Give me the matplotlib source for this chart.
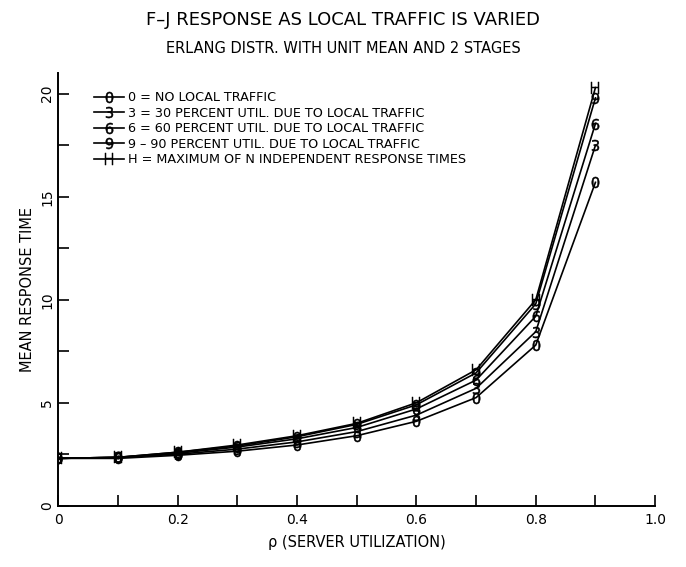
import matplotlib
matplotlib.use("Agg")
import matplotlib.pyplot as plt
from matplotlib.ticker import FixedLocator

plt.rcParams['font.family'] = ['DejaVu Sans']

# --- DATA ---
rho = [0.0, 0.1, 0.2, 0.3, 0.4, 0.5, 0.6, 0.7, 0.8, 0.9]
resp_0 = [2.3, 2.3, 2.45, 2.65, 2.95, 3.4, 4.1, 5.25, 7.8, 15.7]
resp_3 = [2.3, 2.35, 2.5, 2.75, 3.1, 3.6, 4.4, 5.7, 8.45, 17.5]
resp_6 = [2.3, 2.35, 2.55, 2.85, 3.25, 3.8, 4.7, 6.1, 9.2, 18.55]
resp_9 = [2.3, 2.35, 2.6, 2.9, 3.35, 3.95, 4.9, 6.45, 9.8, 19.8]
resp_h = [2.3, 2.35, 2.6, 2.95, 3.4, 4.0, 5.0, 6.6, 10.0, 20.3]

series = [
    (resp_0, '0', '0 = NO LOCAL TRAFFIC'),
    (resp_3, '3', '3 = 30 PERCENT UTIL. DUE TO LOCAL TRAFFIC'),
    (resp_6, '6', '6 = 60 PERCENT UTIL. DUE TO LOCAL TRAFFIC'),
    (resp_9, '9', '9 \u2013 90 PERCENT UTIL. DUE TO LOCAL TRAFFIC'),
    (resp_h, 'H', 'H = MAXIMUM OF N INDEPENDENT RESPONSE TIMES'),
]

fig = plt.figure(figsize=(6.86, 5.67), dpi=100)
ax = fig.add_axes([0.085, 0.108, 0.87, 0.763])

for ys, mk, label in series:
    ax.plot(rho, ys, color='black', linewidth=1.2,
            marker=f'$\\mathregular{{{mk}}}$', markersize=8, markeredgewidth=0.35,
            markerfacecolor='black', markeredgecolor='black', label=label)

ax.set_xlim(0, 1.0)
ax.set_ylim(0, 21)

# --- TICKS ---
ax.xaxis.set_major_locator(FixedLocator([0, 0.2, 0.4, 0.6, 0.8, 1.0]))
ax.xaxis.set_minor_locator(FixedLocator([0.1, 0.3, 0.5, 0.7, 0.9]))
ax.set_xticklabels(['0', '0.2', '0.4', '0.6', '0.8', '1.0'])
ax.yaxis.set_major_locator(FixedLocator([0, 5, 10, 15, 20]))
ax.yaxis.set_minor_locator(FixedLocator([2.5, 7.5, 12.5, 17.5]))
ax.set_yticklabels(['0', '5', '10', '15', '20'], rotation=90, va='center')
ax.tick_params(which='both', direction='in', length=8, width=1.2, labelsize=10)
ax.tick_params(axis='x', which='both', pad=5)
ax.tick_params(axis='y', which='both', pad=3)

for s in ['top', 'right']:
    ax.spines[s].set_visible(False)
for s in ['left', 'bottom']:
    ax.spines[s].set_linewidth(1.4)

ax.set_xlabel('\u03c1 (SERVER UTILIZATION)', fontsize=10.5, labelpad=6)
ax.set_ylabel('MEAN RESPONSE TIME', fontsize=10.5, labelpad=4)

fig.text(0.5, 0.965, 'F\u2013J RESPONSE AS LOCAL TRAFFIC IS VARIED',
         ha='center', va='center', fontsize=13)
fig.text(0.5, 0.915, 'ERLANG DISTR. WITH UNIT MEAN AND 2 STAGES',
         ha='center', va='center', fontsize=10.5)

ax.legend(loc='upper left', bbox_to_anchor=(0.052, 0.97), frameon=False,
          fontsize=9.2, handlelength=2.3, handletextpad=0.35,
          labelspacing=0.2, borderaxespad=0)

plt.savefig('out.png', dpi=100)
